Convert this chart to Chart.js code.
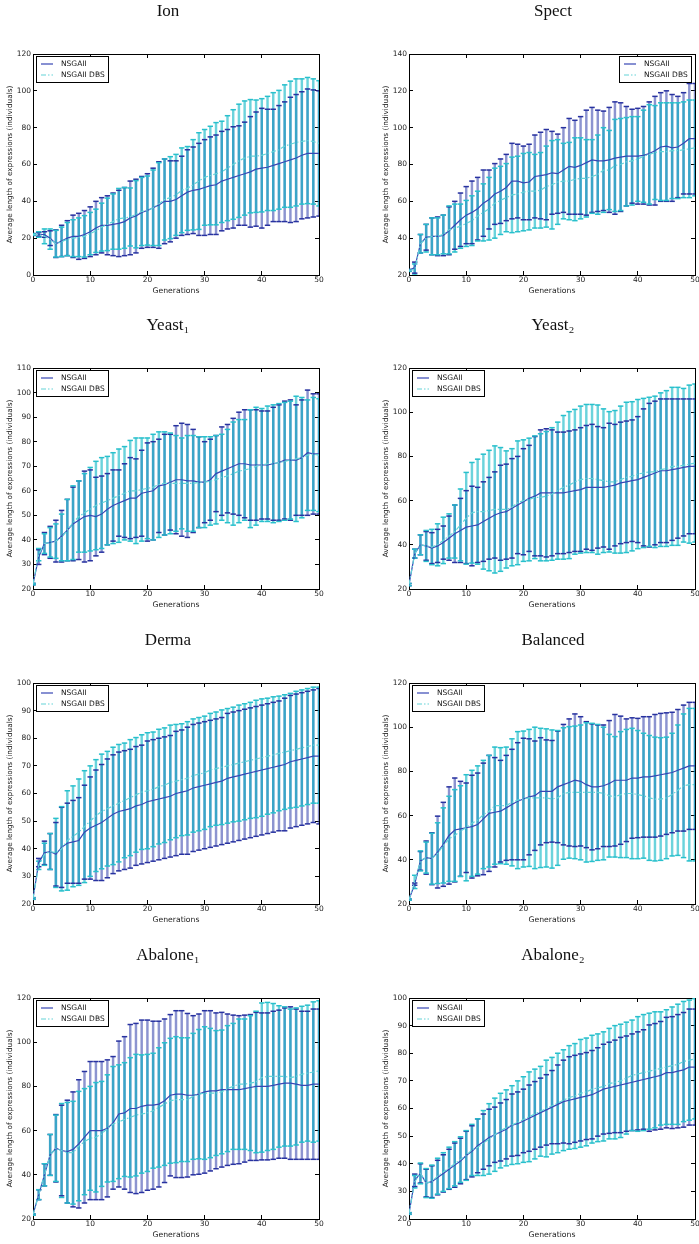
<!DOCTYPE html>
<html>
<head>
<meta charset="utf-8">
<script src="https://cdn.jsdelivr.net/npm/chart.js@4.4.1/dist/chart.umd.min.js"></script>
<style>
  html, body { margin: 0; padding: 0; background: #fff; overflow: hidden; }
  body { width: 699px; height: 1244px; position: relative; }
  canvas { position: absolute; }
</style>
</head>
<body>
<script>
// --- data ---
const generations = [0,1,2,3,4,5,6,7,8,9,10,11,12,13,14,15,16,17,18,19,20,21,22,23,24,25,
  26,27,28,29,30,31,32,33,34,35,36,37,38,39,40,41,42,43,44,45,46,47,48,49,50];
const xTicks = [0, 10, 20, 30, 40, 50];
const seriesNames = ['NSGAII', 'NSGAII DBS'];
const panelTitles = ['Ion', 'Spect', 'Yeast\u2081', 'Yeast\u2082', 'Derma', 'Balanced', 'Abalone\u2081', 'Abalone\u2082'];

const ionYTicks = [0, 20, 40, 60, 80, 100, 120];
const spectYTicks = [20, 40, 60, 80, 100, 120, 140];
const yeast1YTicks = [20, 30, 40, 50, 60, 70, 80, 90, 100, 110];
const yeast2YTicks = [20, 40, 60, 80, 100, 120];
const dermaYTicks = [20, 30, 40, 50, 60, 70, 80, 90, 100];
const balancedYTicks = [20, 40, 60, 80, 100, 120];
const abalone1YTicks = [20, 40, 60, 80, 100, 120];
const abalone2YTicks = [20, 30, 40, 50, 60, 70, 80, 90, 100];

// mean and standard deviation per generation
const ionNsgaMean = [22,22,22,20,17,18.5,20,21,21,22, 23.5,25.5,27,27,27.5,28,29,31,32,34,
  35,36.5,38,40,40,41,43,45,46,46.5, 47.5,48.5,49,51,52,53,54,55,56,57.5, 58,58.5,59.5,60.5,61.5,62.5,63.5,65,66,66, 66];
const ionNsgaSd = [0.5,1,1.5,4,7.5,8.5,9.5,11.5,12.5,13, 13.5,14.5,15,16,17,18,18.5,20,20,19.5,
  20,21.5,23.5,23,22,21,21.5,23,23.5,25, 26,26.5,27,27,27,27.5,27,28,30,31, 32.5,31.5,30.5,31.5,32.5,34,34.5,34.5,35,34.5, 34];
const ionDbsMean = [22,22,21,19.5,17,18,19.5,20,20.5,21, 22.5,24,26,27.5,29,30.5,31,31.5,33,34.5,
  35,36.5,38.5,41,42,43.5,46,47,49,51, 53,54,55,56,58,60,62,63.5,64.5,64.5, 65,66,67,68,70,71,72,72.5,73,72.5, 71.5];
const ionDbsSd = [0.5,1.5,4,5.5,7.25,8,9,10,10.5,11.25, 11.5,11.75,13,14.25,15,16.5,16.5,15.75,18.25,18.5,
  18.75,20.5,22.5,22,22.25,22,23,22.75,24.5,26.25, 26,26.75,27.75,27.5,28.5,29.75,30.75,31,30.75,30.5, 30.75,31,32,32.25,33.25,34.25,34.5,34,34.25,34, 34];

const spectNsgaMean = [22.5,24,37,40.5,41,41,41.5,44,47,50, 52.5,54,56,59,61,64,65.5,67.5,71,71,
  70,70.5,73.5,74,74.5,75.5,75,77,79,78.5, 79.5,81,82.5,82,82,82.5,83.5,84,84.5,84.5, 84.5,85,86,87.5,89.5,90,89,89.5,91.5,94, 94];
const spectNsgaSd = [0.5,3,5,7,10,10.5,11,13,13,14.5, 15.5,17,17,18,16,16.5,17.5,18,20.5,20,
  20,20.5,22.5,23.5,24.5,22.5,21.5,23,26,25.5, 26.5,28.5,28.5,27.5,27,28.5,30.5,29.5,27,25.5, 26,26.5,28,29.5,29.5,30,29,27.5,27.5,30, 30];
const spectDbsMean = [22.5,23,37,40,41,41,42,44.5,45.5,46.5, 48,49.5,52,54,56,59,60.5,62,63.5,64,
  65,65.5,65.5,66,68,69,70.5,71,71,72, 72.5,72.5,73.5,74.5,77,77,79.5,80,81.5,82, 83,84.5,85.5,86.5,87,87,87.5,87.5,88,88.5, 89];
const spectDbsSd = [0.5,3,5,7.5,10,10,10.5,13,13,12, 12.5,13.5,13.5,15.5,17,19,18.5,18.5,20.5,20.5,
  21,21,20,20.5,22,24,23,20.5,21,22.5, 22,21,20,21.5,23,21.5,25,25,24,24, 23,25,27,25.5,26.5,26.5,26,26,26,26.5, 26];

const yeast1NsgaMean = [22,33,38.5,39,39.5,41.5,44,46.5,48,49.5, 50,49.5,50.5,52.5,54,55,56,57,57,59,
  59.5,60,62,62.5,63.5,64.5,64.5,64,64,63.5, 63.5,64.5,67,68,69,70,71,71,70.5,70.5, 70.5,70.5,71,71.5,72.5,72.5,72.5,73.5,75.5,75, 75];
const yeast1NsgaSd = [0.3,3,4.5,6.5,8.5,10.5,12.5,15,16,18.5, 18.5,16,15.5,14.5,14.5,13.5,15,16.5,16,17.5,
  20,20,19,20.5,19.5,22,23,23,21,18.5, 16.5,16.5,15.5,18,18,19.5,21,22,22.5,22.5, 22,22,23,23.5,24,24.5,22.5,23.5,25.5,24.5, 24.5];
const yeast1DbsMean = [22,34,38.5,39,39.5,41,44,47,49.5,51, 52.5,54,55,56,57,58,59,60,60,60.5,
  61,61.5,62.5,63,63,63,63,63,63,63.5, 63.5,64,64.5,65.5,66,67,68,68.5,69,70, 70.5,71,71,71.5,72,72.5,73,73.5,74.5,75, 74.5];
const yeast1DbsSd = [0.3,2.5,4,6,7,9.5,12.5,15,14.5,16, 17,18,18.5,18,18.5,19,19,20.5,21.5,21,
  20.5,21.5,21.5,21,20.5,19.5,18.5,19.5,19.5,18.5, 18.5,18,18,17.5,19,21,21,20.5,24,24, 23,23.5,24,24,24,24,25.5,24.5,22.5,23, 23];

const yeast2NsgaMean = [22,36,40,39.5,38.5,39.5,41,43,45,46.5, 48,48.5,49,50.5,52,53.5,54.5,55,56.5,58,
  59.5,61,62,63.5,63.5,63.5,63.5,63.5,64,64.5, 65,66,66,66,66,66.5,67,68,68.5,69, 69.5,70.5,71.5,72.5,73.5,73.5,74,74.5,75,75.5, 75.5];
const yeast2NsgaSd = [0.5,2,4.5,6.5,7,7.5,7.5,10,13,14.5, 16.5,18,17,18,18.5,19.5,21.5,21.5,22.5,22,
  24,24,27,28.5,29,28.5,27.5,27.5,27.5,27.5, 28,28,28.5,27.5,27,28.5,27.5,27.5,27.5,27.5, 28.5,31,32.5,32.5,32.5,32.5,32,31.5,31,30.5, 30.5];
const yeast2DbsMean = [22,36,40,39.5,39,40,42,44,46,49, 52,54.5,55,55,55.5,56,56,56,57,59,
  60,60.5,61.5,61.5,62,63,64.5,66,67,68.5, 69.5,70,70,69.5,69,68.5,68.5,69.5,70.5,71, 72,72.5,73,73,74,74.5,75.5,75.5,76,76.5, 77];
const yeast2DbsSd = [0.5,2,4.5,7,8,9.5,10.5,10,12,16.25, 20.75,22.75,23.75,26,27.25,28.75,28,26.5,26.5,28,
  27.5,27.75,27.75,28.75,29.25,30,31,32.5,33.25,32.75, 33.25,33.5,33.5,33.75,32.5,31.75,32.25,33.25,34,33.75, 33.75,33.75,33.75,34.25,34.75,35.25,35.75,35.75,34.75,35.75, 35.75];

const dermaNsgaMean = [22,35,38.5,39,38,40.5,42,42.5,43,46, 47.5,48.5,49.5,51,52.5,53.5,54,54.5,55.5,56,
  57,57.5,58,58.5,59,60,60.5,61,62,62.5, 63,63.5,64,64.5,65.5,66,66.5,67,67.5,68, 68.5,69,69.5,70,70.5,71.5,72,72.5,73,73.5, 73.5];
const dermaNsgaSd = [0.3,1.5,4.25,6.5,11.5,14.5,14.5,15,15.5,17, 18.5,20,21,21.5,21.5,21.5,21.5,21.5,21.5,21.5,
  22,22,22,22,22,22.5,22.5,23,23,23, 23,23,23,23,23.5,23.5,23.5,23.5,23.5,23.5, 23.5,23.5,23.5,23.5,24,24,24,24,24,24, 24.5];
const dermaDbsMean = [22,34,38,39,38.5,40,43,44.5,46,48, 50,52,53.5,54.5,55.5,56.5,57.5,58.5,59.5,60.5,
  61,61.5,62.5,63,64,64.5,65,65.5,66.5,67, 67.5,68.5,69,69.5,70,70.5,71,71.5,72,72.5, 73,73.5,74,74.5,75,75.5,76,76.5,77,77.5, 77.5];
const dermaDbsSd = [0.3,1.5,4,6.5,12.5,15.25,18,18.25,19.25,20.25, 20,20.25,20.75,20.75,21.25,21.25,20.75,21,20.75,20.75,
  21,20.75,20.75,20.75,20.75,20.5,20.25,20.5,20.5,20.5, 20.5,20.5,20.5,20.75,20.75,20.75,21,21,21,21.25, 21.25,21,21,20.75,20.75,20.75,21,21,21,21, 21];

const balancedNsgaMean = [22,29,39.5,41,40.5,43.5,47,51,53.5,54, 54.5,55,56,58.5,61,61.5,62,63.5,65,66.5,
  67.5,68.5,69,71,71,71,73,74,75,76, 75.5,74,73,73,73.5,74.5,76,76,76,77, 77,77.5,77.5,78,78.5,79,79.5,80.5,81.5,82.5, 82.5];
const balancedNsgaSd = [0.3,0.5,4.25,7.5,11.75,16.25,19,22,23.5,21.5, 20.25,23.25,23.25,25.25,26.25,24.75,23,23.75,25,26.5,
  27.5,26.25,24.75,24.25,23.25,23,25.25,27.25,28.75,30, 29.25,28.5,28.5,28,27.5,28.5,29.75,29,27.75,27.25, 27,27.25,27.25,27.75,27.75,27.5,27.25,27.5,28.5,28.75, 28.75];
const balancedDbsMean = [22,30,39.5,41,40.5,43,46.5,49.5,51,53, 54.5,56.5,58,60.5,62,64.5,64.5,64.5,66,67,
  67.5,68,68,68,68,67.5,68,70,70.5,70.5, 70.5,70.5,70.5,70.5,70,69,68.5,69.5,70,70, 69.5,69,68,67.5,67.5,68,69.5,71.5,73.5,74, 74];
const balancedDbsSd = [0.3,3,4.5,7,11.5,13.75,17,19.25,20.75,20.5, 24,24,24.5,24.5,25.25,26.5,26.25,26.5,28.75,31,
  30.75,31,32,31.5,31.25,31.25,30.5,29.75,29.75,30, 30.5,31.5,31.25,30.75,30,27.75,27.25,28.5,29,29.5, 29,28.25,28.25,28,27.75,27.5,27.75,29.5,32.5,34.5, 34.5];

const abalone1NsgaMean = [22,31,40,49,52,51,50.5,51.5,54,57, 60,60,60,61,63.5,67.5,68,70,70,71,
  71.5,71.5,72,73.5,76,76.5,76.5,76,76,76.5, 77.5,78,78,78.5,78.5,78.5,78.5,79,79.5,80, 80,80,80.5,81,81.5,81.5,81,80.5,80.5,81, 81];
const abalone1NsgaSd = [0.3,2.25,5,9.25,15.25,20.5,23.25,26,29,29.75, 31.25,31.25,31.25,31,30,33,34.5,38,38.5,39,
  38.5,38,37.5,37,36.5,37.75,37.75,37,36,36.25, 36.75,36.25,35.25,35,34.25,33.75,33.5,33.25,33,33.5, 33.25,33.25,33.5,33.5,34,34.5,34,33.5,33.5,34, 34];
const abalone1DbsMean = [22,31,40,49,52,51,50,50,53,55, 56.5,57,58.5,61,63,64,65,66,67,67.5,
  68,69,70.5,72,73.5,74,74,74,75.5,76.5, 77,77,77,77.5,79,80,81,81,81.5,82, 84,84.5,84.5,84.5,84.5,84,84.5,85.5,86,86.5, 87];
const abalone1DbsSd = [0.3,2.25,5,9.25,15,21.25,22.75,23.25,24.75,24, 23.5,24.75,23.75,24.25,26,25.75,25.75,27,27.5,26.75,
  26.5,26,27,27.75,28.25,28.5,28,28,28.5,29.25, 30,29.25,28.25,28,28.5,28.5,29.5,29.5,30.5,32, 33.75,33.5,33,32,31.5,31,31,30.75,30.75,31.75, 31.75];

const abalone2NsgaMean = [22,34,36.5,33,33.5,35,36.5,38,39.5,41, 43,44.5,46.5,48,49.5,50.5,51.5,52.5,54,54.5,
  55.5,56.5,57.5,58.5,59.5,60.5,61.5,62.5,63,63.5, 64,64.5,65,66,67,67.5,68,68.5,69,69.5, 70,70.5,71,71.5,72,73,73,73.5,74,75, 75];
const abalone2NsgaSd = [0.3,2.25,3.5,5,5.75,6.25,6.75,7.25,8,8.25, 8.75,9.25,9.75,10,10.25,10,10.5,10.75,11.25,11.5,
  11.5,12,12.25,12.5,12.75,13.25,14.25,15,15.75,15.75, 15.75,15.75,16,16,16.25,16.5,16.75,17.25,17.25,17.5, 17.75,18,19.25,19.25,19.5,20,20.25,20.5,20.75,21, 21];
const abalone2DbsMean = [22,33.5,36.5,33,33.5,35.5,37,38.5,40,41.5, 43,45,46,47.5,49,50.5,52,53,54,55,
  56,57,58,59,60,61,62,63,64,64.5, 65.5,66,67,67.5,68,69,69.5,70,71,72, 72.5,73,73.5,74,74.5,75,75.5,76,77,77.5, 78];
const abalone2DbsSd = [0.3,2.25,3.75,5.25,6,6.5,7,7.5,8,8.25, 9,9.25,10.25,11.75,12.75,13.25,13.5,13.75,14.25,15,
  15.5,16.25,16.25,16.25,17.5,17.5,18,18.25,18.75,19, 19.5,19.5,19.5,19.5,19.75,20,20.5,20.5,20.25,20, 20.75,21,21,21,20.5,20.75,21.25,21.75,21.75,21.75, 21.75];

// --- look ---
const NSGA_LINE = 'rgb(55,70,180)';
const DBS_LINE = 'rgb(100,212,216)';
const NSGA_BAR = 'rgba(45,60,170,0.55)';
const DBS_BAR = 'rgba(0,180,195,0.58)';
const NSGA_CAP = 'rgb(40,50,160)';
const DBS_CAP = 'rgb(40,192,204)';
const SANS = 'DejaVu Sans';

const rowTops = [0, 314, 629, 944];
const colLefts = [0, 376];

// draws the boxed legend inside the plot, like matplotlib's loc='upper left'
const insideLegend = {
  id: 'insideLegend',
  afterDraw(chart, args, opts) {
    const { ctx, chartArea } = chart;
    const w = 73, h = 27;
    const left = Math.round(opts.side === 'right' ? chartArea.right - 3 - w : chartArea.left + 3);
    const top = Math.round(chartArea.top + 2);
    ctx.save();
    ctx.fillStyle = '#fff';
    ctx.fillRect(left, top, w, h);
    ctx.strokeStyle = '#000';
    ctx.lineWidth = 1;
    ctx.strokeRect(left + 0.5, top + 0.5, w - 1, h - 1);
    ctx.font = '7.5px "' + SANS + '"';
    ctx.textBaseline = 'middle';
    chart.data.datasets.filter(d => d.type === 'line').forEach((d, i) => {
      const y = top + 8 + i * 11;
      ctx.strokeStyle = d.borderColor;
      ctx.lineWidth = d.borderWidth;
      ctx.setLineDash(d.borderDash || []);
      ctx.beginPath();
      ctx.moveTo(left + 5, y);
      ctx.lineTo(left + 17, y);
      ctx.stroke();
      ctx.setLineDash([]);
      ctx.fillStyle = '#111';
      ctx.fillText(d.label, left + 25, y);
    });
    ctx.restore();
  }
};

// nudge the title sideways (the left column titles sit a bit left of centre)
const titleShift = {
  id: 'titleShift',
  afterLayout(chart, args, opts) {
    const t = chart.titleBlock;
    if (t && opts.dx) { t.left += opts.dx; t.right += opts.dx; }
  }
};

function meanLine(mean) { return generations.map((g, i) => ({ x: g, y: mean[i] })); }
function spans(mean, sd) { return generations.map((g, i) => ({ x: g, y: [mean[i] - sd[i], mean[i] + sd[i]] })); }
function capPoints(mean, sd) {
  const pts = [];
  generations.forEach((g, i) => { pts.push({ x: g, y: mean[i] + sd[i] }, { x: g, y: mean[i] - sd[i] }); });
  return pts;
}

function frameAxis(position, tickValues, extra) {
  const horizontal = position === 'top' || position === 'bottom';
  const ax = {
    type: 'linear',
    position: position,
    min: tickValues[0],
    max: tickValues[tickValues.length - 1],
    offset: false,
    border: { display: true, color: '#000', width: 1 },
    grid: { drawOnChartArea: false, drawTicks: true, tickLength: -4, color: '#000', tickColor: '#000', offset: false },
    afterBuildTicks: s => { s.ticks = tickValues.map(v => ({ value: v })); },
    ticks: { display: false },
    afterFit: s => {
      if (horizontal) { s.height = 0; } else { s.width = 0; }
      s.paddingLeft = 0; s.paddingRight = 0; s.paddingTop = 0; s.paddingBottom = 0;
    }
  };
  return Object.assign(ax, extra || {});
}

function makePanel(idx, title, nsgaMean, nsgaSd, dbsMean, dbsSd, yTicks, legendSide) {
  const col = idx % 2, row = Math.floor(idx / 2);
  const canvas = document.createElement('canvas');
  const cw = col === 0 ? 330 : 333;
  canvas.width = cw;
  canvas.height = 297;
  canvas.style.left = colLefts[col] + 'px';
  canvas.style.top = rowTops[row] + 'px';
  document.body.appendChild(canvas);

  new Chart(canvas, {
    type: 'line',
    data: {
      datasets: [
        { type: 'line', label: seriesNames[0], data: meanLine(nsgaMean), borderColor: NSGA_LINE, borderWidth: 1.2,
          pointRadius: 0, tension: 0, order: 1 },
        { type: 'line', label: seriesNames[1], data: meanLine(dbsMean), borderColor: DBS_LINE, borderWidth: 1.2,
          borderDash: [5, 2, 1.5, 2], pointRadius: 0, tension: 0, order: 0 },
        { type: 'bar', label: '', data: spans(nsgaMean, nsgaSd), backgroundColor: NSGA_BAR, barThickness: 1.8,
          grouped: false, borderWidth: 0, order: 5 },
        { type: 'bar', label: '', data: spans(dbsMean, dbsSd), backgroundColor: DBS_BAR, barThickness: 1.8,
          grouped: false, borderWidth: 0, order: 4 },
        { type: 'scatter', label: '', data: capPoints(nsgaMean, nsgaSd), pointStyle: 'line', pointRadius: 2.7,
          pointHoverRadius: 2.7, borderColor: NSGA_CAP, pointBorderColor: NSGA_CAP, pointBorderWidth: 1.5, order: 3 },
        { type: 'scatter', label: '', data: capPoints(dbsMean, dbsSd), pointStyle: 'line', pointRadius: 2.7,
          pointHoverRadius: 2.7, borderColor: DBS_CAP, pointBorderColor: DBS_CAP, pointBorderWidth: 1.5, order: 2 }
      ]
    },
    options: {
      responsive: false,
      animation: false,
      events: [],
      layout: { padding: { left: 0, right: cw - 33 - 286, top: 0, bottom: 0 } },
      scales: {
        x: frameAxis('bottom', xTicks, {
          ticks: { display: true, font: { family: SANS, size: 7.5 }, color: '#222', padding: 5, maxRotation: 0, autoSkip: false },
          title: { display: true, text: 'Generations', font: { family: SANS, size: 7.7 }, color: '#222', padding: { top: 0, bottom: 1.7 } },
          afterFit: s => { s.height = 22; s.paddingLeft = 0; s.paddingRight = 0; }
        }),
        x2: frameAxis('top', xTicks),
        y: frameAxis('left', yTicks, {
          ticks: { display: true, font: { family: SANS, size: 7.5 }, color: '#222', padding: 6, autoSkip: false },
          title: { display: true, text: 'Average length of expressions (individuals)', font: { family: SANS, size: 7.3 },
                   color: '#222', padding: { top: 5.6, bottom: 0 } },
          afterFit: s => { s.width = 33; s.paddingTop = 0; s.paddingBottom = 0; }
        }),
        y2: frameAxis('right', yTicks)
      },
      plugins: {
        legend: { display: false },
        tooltip: { enabled: false },
        title: { display: true, text: title, fullSize: false, color: '#111',
                 font: { family: 'Liberation Serif', size: 17, weight: 'normal' }, padding: { top: 1.8, bottom: 31.8 } },
        titleShift: { dx: col === 0 ? -8 : 1 },
        insideLegend: { side: legendSide }
      }
    },
    plugins: [titleShift, insideLegend]
  });
}

makePanel(0, panelTitles[0], ionNsgaMean, ionNsgaSd, ionDbsMean, ionDbsSd, ionYTicks, 'left');
makePanel(1, panelTitles[1], spectNsgaMean, spectNsgaSd, spectDbsMean, spectDbsSd, spectYTicks, 'right');
makePanel(2, panelTitles[2], yeast1NsgaMean, yeast1NsgaSd, yeast1DbsMean, yeast1DbsSd, yeast1YTicks, 'left');
makePanel(3, panelTitles[3], yeast2NsgaMean, yeast2NsgaSd, yeast2DbsMean, yeast2DbsSd, yeast2YTicks, 'left');
makePanel(4, panelTitles[4], dermaNsgaMean, dermaNsgaSd, dermaDbsMean, dermaDbsSd, dermaYTicks, 'left');
makePanel(5, panelTitles[5], balancedNsgaMean, balancedNsgaSd, balancedDbsMean, balancedDbsSd, balancedYTicks, 'left');
makePanel(6, panelTitles[6], abalone1NsgaMean, abalone1NsgaSd, abalone1DbsMean, abalone1DbsSd, abalone1YTicks, 'left');
makePanel(7, panelTitles[7], abalone2NsgaMean, abalone2NsgaSd, abalone2DbsMean, abalone2DbsSd, abalone2YTicks, 'left');
</script>
</body>
</html>
